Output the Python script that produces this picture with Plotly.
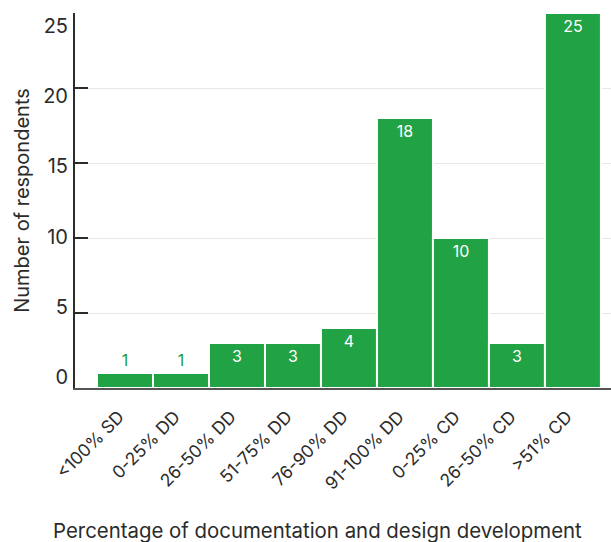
import plotly.graph_objects as go

categories = ["<100% SD", "0-25% DD", "26-50% DD", "51-75% DD", "76-90% DD",
              "91-100% DD", "0-25% CD", "26-50% CD", ">51% CD"]
respondents = [1, 1, 3, 3, 4, 18, 10, 3, 25]
y_ticks = [0, 5, 10, 15, 20, 25]

font_family = "Inter, 'Noto Sans', sans-serif"
green = "#21a245"
label_green = "#1c9a3f"
dark = "#2b2b2b"

x_idx = list(range(len(categories)))
positions = ["outside" if v < 2 else "inside" for v in respondents]

fig = go.Figure()
fig.add_trace(go.Bar(
    x=x_idx, y=respondents, width=1.0,
    marker=dict(color=green, line=dict(width=2, color="white")),
    text=[str(v) for v in respondents],
    textposition=positions,
    insidetextanchor="end",
    insidetextfont=dict(color="white", size=16, family=font_family),
    outsidetextfont=dict(color=label_green, size=16, family=font_family),
    cliponaxis=False,
    hoverinfo="skip",
))
# invisible trace on label axis
fig.add_trace(go.Scatter(x=[0], y=[0], yaxis="y2", mode="markers",
                         marker=dict(opacity=0), showlegend=False, hoverinfo="skip"))

fig.update_layout(
    width=611, height=542,
    margin=dict(l=75, r=0, t=13, b=154),
    paper_bgcolor="white", plot_bgcolor="white",
    showlegend=False,
    font=dict(family=font_family, color=dark),
    xaxis=dict(
        range=[-0.893, 8.68], automargin=False,
        tickmode="array", tickvals=x_idx, ticktext=categories,
        tickangle=-45, tickfont=dict(size=17.5, color=dark),
        ticklabelshift=-6, ticklabelstandoff=10,
        showgrid=False, ticks="",
        showline=True, linecolor="#555555", linewidth=1.5,
        zeroline=False, layer="below traces",
    ),
    yaxis=dict(
        range=[0, 25], automargin=False,
        tickmode="array", tickvals=y_ticks,
        showticklabels=False,
        ticks="inside", ticklen=13, tickcolor=dark, tickwidth=1.5,
        showgrid=True, gridcolor="#e8e8e8", gridwidth=1,
        showline=True, linecolor=dark, linewidth=1.5,
        zeroline=False,
    ),
    yaxis2=dict(
        overlaying="y", side="left", automargin=False,
        range=[-0.78, 25.93],
        tickmode="array", tickvals=y_ticks,
        tickfont=dict(size=20, color=dark),
        showgrid=False, showline=False, zeroline=False, ticks="",
        ticklabelstandoff=6,
        title=dict(text="Number of respondents", font=dict(size=20, color=dark), standoff=8),
    ),
    annotations=[dict(
        text="Percentage of documentation and design development",
        xref="paper", yref="paper", x=0.453, y=0, yshift=-142,
        xanchor="center", yanchor="middle", showarrow=False,
        font=dict(size=20.4, color=dark, family=font_family),
    )],
)

fig.write_html("out.html", config={"displayModeBar": False},
               post_script="document.body.style.margin='0';")
